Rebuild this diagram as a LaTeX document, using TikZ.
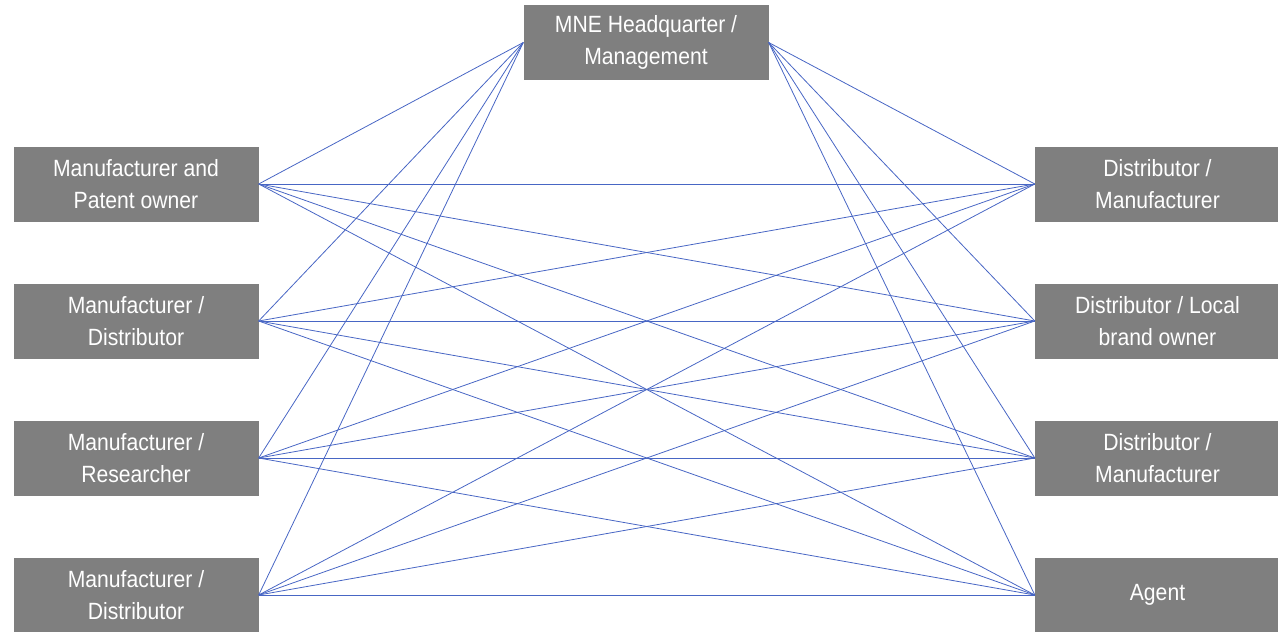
\documentclass[tikz,border=0pt]{standalone}
\usepackage{fontspec}
\setmainfont[FakeStretch=0.9]{Liberation Sans}
\usetikzlibrary{positioning}

\begin{document}
\begin{tikzpicture}[
    x=1pt, y=1pt,
    node distance=137pt,
    on grid,
    box/.style={fill=boxgray, text=white, minimum width=245pt, minimum height=75pt,
                align=center, inner sep=2pt, font=\fontsize{23.5}{32}\selectfont},
    link/.style={draw=linkblue, line width=0.8pt}
]
   \definecolor{boxgray}{HTML}{7F7F7F}
   \definecolor{linkblue}{HTML}{4866C4}
   \useasboundingbox (0,0) rectangle (1278,-632);

   % Boxes
   \node[box] (hq) at (646,-42.5) {MNE Headquarter /\\Management};
   \node[box] (m1) at (136,-184) {Manufacturer and\\Patent owner};
   \node[box] (m2) [below=of m1] {Manufacturer /\\Distributor};
   \node[box] (m3) [below=of m2] {Manufacturer /\\Researcher};
   \node[box] (m4) [below=of m3] {Manufacturer /\\Distributor};
   \node[box] (d1) at (1157.5,-184) {Distributor /\\Manufacturer};
   \node[box] (d2) [below=of d1] {Distributor / Local\\brand owner};
   \node[box] (d3) [below=of d2] {Distributor /\\Manufacturer};
   \node[box] (d4) [below=of d3] {Agent};

   % Links
   \path[link]
   (hq.west) edge (m1.east)
             edge (m2.east)
             edge (m3.east)
             edge (m4.east)
   (hq.east) edge (d1.west)
             edge (d2.west)
             edge (d3.west)
             edge (d4.west)

   (m1.east) edge (d1.west) edge (d2.west) edge (d3.west) edge (d4.west)
   (m2.east) edge (d1.west) edge (d2.west) edge (d3.west) edge (d4.west)
   (m3.east) edge (d1.west) edge (d2.west) edge (d3.west) edge (d4.west)
   (m4.east) edge (d1.west) edge (d2.west) edge (d3.west) edge (d4.west);

\end{tikzpicture}
\end{document}
